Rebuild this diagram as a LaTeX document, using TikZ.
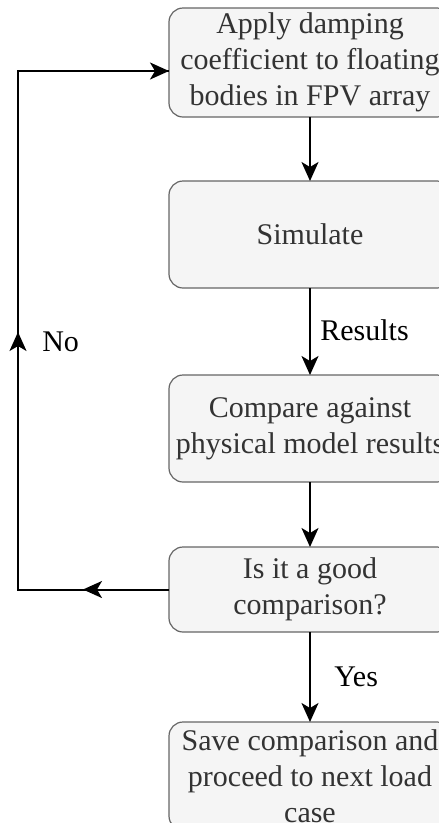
\documentclass[tikz,border=0pt]{standalone}
\usepackage{fontspec}
\setmainfont{Liberation Serif}
\usepackage{tikz}
\usepackage{xcolor}
\usetikzlibrary{arrows.meta}

\definecolor{boxfill}{HTML}{F5F5F5}
\definecolor{boxline}{HTML}{666666}
\definecolor{boxtext}{HTML}{333333}

\begin{document}
\begin{tikzpicture}[x=1pt, y=-1pt,
    every node/.style={font=\fontsize{30}{36}\selectfont, outer sep=0pt},
    stepbox/.style={draw=boxline, fill=boxfill, line width=1.2pt, rounded corners=14pt,
        minimum width=282pt, align=center, inner sep=0pt, text=boxtext},
    wire/.style={line width=2pt},
    flow/.style={wire, -{Stealth[length=19pt, width=17pt, inset=5pt]}}]
    \clip (0,0) rectangle (439,823);

    % Boxes
    \node[stepbox, minimum height=109pt] (apply) at (310, 62.5)
        {Apply damping\\coefficient to floating\\bodies in FPV array};
    \node[stepbox, minimum height=107pt] (sim) at (310, 234.5) {Simulate};
    \node[stepbox, minimum height=107pt] (cmp) at (310, 428.5)
        {Compare against\\physical model results};
    \node[stepbox, minimum height=85pt] (good) at (310, 589.5)
        {Is it a good\\comparison?};
    \node[stepbox, minimum height=108pt] (save) at (310, 776)
        {Save comparison and\\proceed to next load\\case};

    % Arrows down
    \draw[flow] (apply) -- (sim);
    \draw[flow] (sim) -- (cmp);
    \draw[flow] (cmp) -- (good);
    \draw[flow] (good) -- (save);

    % Loop back
    \coordinate (botleft) at (18, 589.5);
    \coordinate (topleft) at (18, 71);
    \coordinate (applyin) at (169, 71);
    \coordinate (leftmid) at (83, 589.5);
    \coordinate (upmid) at (18, 332);
    \draw[wire, line join=miter] (good.west) -- (botleft) -- (topleft) -- (applyin);
    \draw[flow] (good.west) -- (leftmid);
    \draw[flow] (botleft) -- (upmid);
    \draw[flow] (topleft) -- (applyin);

    % Labels
    \node[anchor=west] (results) at (317, 330) {Results};
    \node[anchor=west] (yes) at (331, 677) {Yes};
    \node[anchor=west] (no) at (39, 342) {No};

\end{tikzpicture}
\end{document}
